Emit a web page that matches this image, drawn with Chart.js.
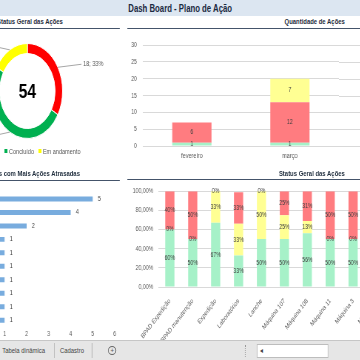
<!DOCTYPE html>
<html>
<head>
<meta charset="utf-8">
<script src="https://cdn.jsdelivr.net/npm/chart.js@4.4.1/dist/chart.umd.min.js"></script>
<style>
html, body { margin: 0; padding: 0; background: #fff; overflow: hidden; }
/* the sheet is drawn wider, then squeezed like the screenshot */
#page { position: absolute; left: 0; top: 0; width: 487px; height: 360px; transform: scaleX(0.74); transform-origin: 0 0;
        font-family: 'Liberation Sans', Arial, sans-serif; overflow: hidden; background: #fff; }
.box { position: absolute; }
#head { position: absolute; left: 0; top: 0; width: 487px; height: 16px; background: #dce6f1; text-align: center;
        font-weight: bold; font-size: 10.5px; line-height: 16px; color: #1b2a41; }
.ttl { position: absolute; font-weight: bold; font-size: 8px; color: #1f2d3d; white-space: nowrap; line-height: 10px; }
.rule { position: absolute; height: 1px; background: #44546a; }
#donutLegend { position: absolute; left: -113.5px; top: 147px; width: 300px; text-align: center; font-size: 7.5px;
               line-height: 10px; color: #595959; white-space: nowrap; }
#donutLegend span { display: inline-block; margin: 0 3px; }
#donutLegend i { display: inline-block; width: 4px; height: 4px; margin-right: 2px; vertical-align: 1px; }
#tabs { position: absolute; left: 0; top: 340px; width: 487px; height: 20px; background: #e6e6e6; border-top: 1px solid #c6c6c6; }
.tab { position: absolute; top: 5px; font-size: 8px; color: #444; white-space: nowrap; }
.sep { position: absolute; top: 2px; width: 1px; height: 15px; background: #b5b5b5; }
.plus { position: absolute; top: 5px; width: 9px; height: 7px; border: 1px solid #666; border-radius: 50%;
        font-size: 8px; line-height: 7px; text-align: center; color: #555; }
.dots { position: absolute; top: 4px; width: 0; height: 12px; border-left: 1px dotted #999; }
.scroll { position: absolute; top: 3px; width: 95px; height: 12px; background: #fff; border: 1px solid #bdbdbd; }
.scroll span { position: absolute; left: 3px; top: 0; font-size: 8px; line-height: 12px; color: #444; }
</style>
</head>
<body>
<div id="page">
  <div id="head">Dash Board - Plano de Ação</div>

  <div class="ttl" style="right:402px; top:17px">Status Geral das Ações</div>
  <div class="ttl" style="right:21px; top:17px">Quantidade de Ações</div>
  <div class="rule" style="left:0; width:162px; top:28px"></div>
  <div class="rule" style="left:172px; width:315px; top:28px"></div>

  <div class="box" style="left:-73.5px; top:26px; width:220px; height:130px"><canvas id="cDonut"></canvas></div>
  <div id="donutLegend"></div>

  <div class="box" style="left:165px; top:33px; width:322px; height:130px"><canvas id="cQty"></canvas></div>

  <div class="ttl" style="right:379px; top:169px">Setores com Mais Ações Atrasadas</div>
  <div class="ttl" style="right:21px; top:169px">Status Geral das Ações</div>
  <div class="rule" style="left:0; width:162px; top:180px"></div>
  <div class="rule" style="left:172px; width:315px; top:179px"></div>

  <div class="box" style="left:-120px; top:185px; width:280px; height:160px"><canvas id="cLate"></canvas></div>
  <div class="box" style="left:150px; top:180px; width:380px; height:160px"><canvas id="cPct"></canvas></div>

  <div id="tabs">
    <span class="tab" style="left:3px">Tabela dinâmica</span>
    <div class="sep" style="left:73px"></div>
    <span class="tab" style="left:81px">Cadastro</span>
    <div class="sep" style="left:124px"></div>
    <div class="plus" style="left:146px">+</div>
    <div class="dots" style="left:331px"></div>
    <div class="scroll" style="left:347px"><span>◂</span></div>
  </div>
</div>

<script>
// status categories
const statusNames  = ['Atrasado', 'Concluído', 'Em andamento'];
const donutValues  = [18, 27, 9];
const donutColors  = ['#ff0000', '#00b050', '#ffff00'];

// Quantidade de Ações por mês
const months       = ['fevereiro', 'março'];
const monthDone    = [1, 1];
const monthLate    = [6, 12];
const monthOngoing = [0, 7];

// setores com mais ações atrasadas
const lateUnits  = ['Máquina 108', 'Máquina 107', 'BPAD Expedição', 'BPAD manutenção', 'Laboratórios',
                    'Máquina 11', 'Máquina 3', 'Máquina 5', 'Máquina 7', 'Pátio'];
const lateCounts = [5, 4, 2, 1, 1, 1, 1, 1, 1, 1];

// status geral por setor (%)
const areas      = ['BPAD Expedição', 'BPAD manutenção', 'Expedição', 'Laboratórios', 'Lanche',
                    'Máquina 107', 'Máquina 108', 'Máquina 11', 'Máquina 3', 'Máquina 5'];
const pctDone    = [60, 50, 67, 33, 50, 50, 56, 50, 50, 50];
const pctOngoing = [0, 0, 33, 33, 50, 25, 13, 0, 0, 0];
const pctLate    = [40, 50, 0, 33, 0, 25, 31, 50, 50, 50];

const FONT = "'Liberation Sans', Arial, sans-serif";
const soft = { green: '#a6f1c8', red: '#ff7c80', yellow: '#ffff93' };

Chart.defaults.font.family = FONT;
Chart.defaults.color = '#595959';
Chart.defaults.animation = false;

// legend of the doughnut
const leg = document.getElementById('donutLegend');
statusNames.forEach((n, i) => {
  leg.innerHTML += '<span><i style="background:' + donutColors[i] + '"></i>' + n + '</span>';
});

// value labels on bars
const segLabels = {
  id: 'segLabels',
  afterDatasetsDraw(chart, args, opts) {
    const ctx = chart.ctx;
    ctx.save();
    ctx.font = opts.font;
    ctx.fillStyle = opts.color;
    ctx.textBaseline = 'middle';
    chart.data.datasets.forEach((ds, di) => {
      chart.getDatasetMeta(di).data.forEach((bar, i) => {
        const v = ds.data[i];
        const p = bar.getProps(['x', 'y', 'base'], true);
        if (opts.mode === 'end') {
          ctx.textAlign = 'left';
          ctx.fillText(v, p.x + 7, p.y);
        } else {
          if (opts.hideZero && !v) return;
          ctx.textAlign = 'center';
          ctx.fillText(v + (opts.suffix || ''), p.x, (p.y + p.base) / 2);
        }
      });
    });
    ctx.restore();
  }
};

// gridlines of the month chart run to the edge of the sheet
const gridExtend = {
  id: 'gridExtend',
  beforeDatasetsDraw(chart) {
    const y = chart.scales.y, a = chart.chartArea, ctx = chart.ctx;
    ctx.save();
    ctx.strokeStyle = '#d9d9d9';
    ctx.lineWidth = 1;
    y.ticks.forEach((t, i) => {
      const py = Math.round(y.getPixelForTick(i)) + 0.5;
      ctx.beginPath(); ctx.moveTo(a.right, py); ctx.lineTo(chart.width, py); ctx.stroke();
    });
    ctx.restore();
  }
};

// total in the middle + leader-line labels
const donutDeco = {
  id: 'donutDeco',
  afterDatasetsDraw(chart) {
    const ctx = chart.ctx;
    const meta = chart.getDatasetMeta(0);
    const vals = chart.data.datasets[0].data;
    const total = vals.reduce((a, b) => a + b, 0);
    const cx = meta.data[0].x, cy = meta.data[0].y;
    ctx.save();
    ctx.fillStyle = '#000';
    ctx.font = 'bold 21px ' + FONT;
    ctx.textAlign = 'center';
    ctx.textBaseline = 'middle';
    ctx.fillText(total, cx, cy + 1);
    meta.data.forEach((a, i) => {
      const mid = (a.startAngle + a.endAngle) / 2;
      const R = a.outerRadius;
      const dx = Math.cos(mid), dy = Math.sin(mid);
      const x0 = cx + dx * R, y0 = cy + dy * R;
      const side = dx >= 0 ? 1 : -1;
      const x1 = x0 + side * 32, y1 = y0 + dy * 6;
      ctx.strokeStyle = '#a6a6a6';
      ctx.lineWidth = 1;
      ctx.beginPath(); ctx.moveTo(x0, y0); ctx.lineTo(x1, y1); ctx.stroke();
      ctx.fillStyle = '#595959';
      ctx.font = '7.5px ' + FONT;
      ctx.textAlign = side > 0 ? 'left' : 'right';
      ctx.fillText(vals[i] + '; ' + Math.round(vals[i] / total * 100) + '%', x1 + side * 2, y1);
    });
    ctx.restore();
  }
};

new Chart(document.getElementById('cDonut'), {
  type: 'doughnut',
  data: {
    labels: statusNames,
    datasets: [{ data: donutValues, backgroundColor: donutColors, borderColor: '#fff', borderWidth: 1 }]
  },
  options: {
    responsive: true, maintainAspectRatio: false,
    cutout: '79%',
    layout: { padding: { top: 17, bottom: 17 } },
    plugins: { legend: { display: false }, tooltip: { enabled: false } }
  },
  plugins: [donutDeco]
});

new Chart(document.getElementById('cQty'), {
  type: 'bar',
  data: {
    labels: months,
    datasets: [
      { label: statusNames[1], data: monthDone, backgroundColor: soft.green },
      { label: statusNames[0], data: monthLate, backgroundColor: soft.red },
      { label: statusNames[2], data: monthOngoing, backgroundColor: soft.yellow }
    ]
  },
  options: {
    responsive: true, maintainAspectRatio: false,
    layout: { padding: { top: 8, right: 29, left: 0, bottom: 0 } },
    datasets: { bar: { barPercentage: 0.4, categoryPercentage: 1 } },
    plugins: {
      legend: { display: false }, tooltip: { enabled: false },
      segLabels: { mode: 'mid', hideZero: true, font: '7px ' + FONT, color: '#404040' }
    },
    scales: {
      x: { stacked: true, grid: { display: false, drawTicks: false }, border: { display: false },
           ticks: { font: { size: 7.5 }, padding: 5 }, afterFit(s) { s.height = 17; } },
      y: { stacked: true, min: 0, max: 30, border: { display: false },
           grid: { color: '#d9d9d9', drawTicks: false },
           ticks: { stepSize: 5, font: { size: 7 }, padding: 8 }, afterFit(s) { s.width = 28; } }
    }
  },
  plugins: [segLabels, gridExtend]
});

new Chart(document.getElementById('cLate'), {
  type: 'bar',
  data: {
    labels: lateUnits,
    datasets: [{ label: statusNames[0], data: lateCounts, backgroundColor: '#78acde' }]
  },
  options: {
    indexAxis: 'y',
    responsive: true, maintainAspectRatio: false,
    layout: { padding: { top: 4, right: 2, left: 0, bottom: 0 } },
    datasets: { bar: { barPercentage: 0.37, categoryPercentage: 1 } },
    plugins: {
      legend: { display: false }, tooltip: { enabled: false },
      segLabels: { mode: 'end', font: '7px ' + FONT, color: '#404040' }
    },
    scales: {
      x: { min: 0, max: 6, grid: { display: false, drawTicks: false }, border: { display: false },
           ticks: { stepSize: 1, font: { size: 7 }, padding: 3 }, afterFit(s) { s.height = 18; } },
      y: { grid: { display: false, drawTicks: false }, border: { display: false },
           ticks: { font: { size: 7 } }, afterFit(s) { s.width = 96.4; } }
    }
  },
  plugins: [segLabels]
});

new Chart(document.getElementById('cPct'), {
  type: 'bar',
  data: {
    labels: areas,
    datasets: [
      { label: statusNames[1], data: pctDone, backgroundColor: soft.green },
      { label: statusNames[2], data: pctOngoing, backgroundColor: soft.yellow },
      { label: statusNames[0], data: pctLate, backgroundColor: soft.red }
    ]
  },
  options: {
    responsive: true, maintainAspectRatio: false,
    layout: { padding: { top: 9, right: 6.4, left: 0, bottom: 0 } },
    datasets: { bar: { barPercentage: 0.4, categoryPercentage: 1 } },
    plugins: {
      legend: { display: false }, tooltip: { enabled: false },
      segLabels: { mode: 'mid', suffix: '%', font: '7px ' + FONT, color: '#404040' }
    },
    scales: {
      x: { stacked: true, grid: { display: false }, border: { display: false },
           ticks: { autoSkip: false, minRotation: 45, maxRotation: 45, font: { size: 7 }, padding: 2 },
           afterFit(s) { s.height = 53; } },
      y: { stacked: true, min: 0, max: 100, border: { display: false },
           grid: { color: '#d9d9d9', drawTicks: false },
           ticks: { stepSize: 20, font: { size: 7 }, padding: 7,
                    callback: v => v.toFixed(2).replace('.', ',') + '%' },
           afterFit(s) { s.width = 64; } }
    }
  },
  plugins: [segLabels]
});
</script>
</body>
</html>
